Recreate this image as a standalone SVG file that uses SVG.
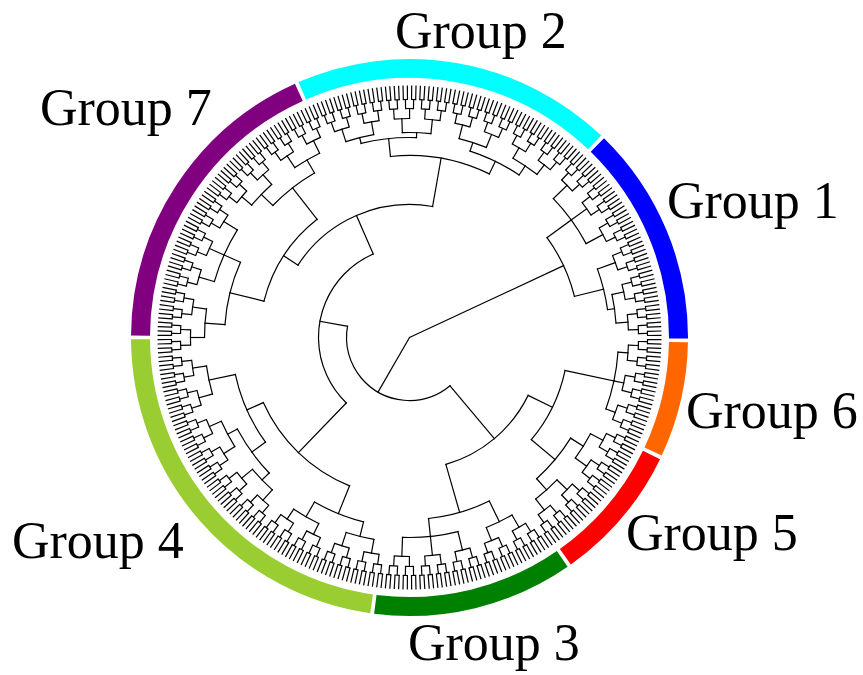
<svg xmlns="http://www.w3.org/2000/svg" width="863" height="675" viewBox="0 0 863 675">
<style>
.lbl{font-family:"Liberation Serif","Times New Roman",serif;font-size:52px;fill:#000}
.ring{fill:none;stroke-width:19}
.b{fill:none;stroke:#000}
.e{fill:none;stroke:#000;stroke-width:1.2;stroke-linecap:square}
</style>
<rect width="863" height="675" fill="#fff"/>
<g id="tree" transform="translate(409.5 337.5)">
<circle class="b" stroke-width="14" r="245" pathLength="360" stroke-dasharray="0.281 0.719" transform="rotate(0.36)"/>
<circle class="b" stroke-width="1.2" r="238" pathLength="360" stroke-dasharray="1.29 0.71" transform="rotate(0.356)"/>
<circle class="b" stroke-width="9" r="233.5" pathLength="360" stroke-dasharray="0.294 1.706" transform="rotate(0.853)"/>
<circle class="b" stroke-width="1.2" r="229" pathLength="360" stroke-dasharray="2.3 1.7" transform="rotate(0.85)"/>
<circle class="b" stroke-width="10" r="224" pathLength="360" stroke-dasharray="0.307 3.693" transform="rotate(1.847)"/>
<circle class="b" stroke-width="1.2" r="219" pathLength="360" stroke-dasharray="4.314 3.686" transform="rotate(1.843)"/>
<circle class="e" r="209" pathLength="360" stroke-dasharray="16 400" transform="rotate(4)"/>
<circle class="e" r="205" pathLength="360" stroke-dasharray="8 400" transform="rotate(28)"/>
<circle class="e" r="205" pathLength="360" stroke-dasharray="8 400" transform="rotate(44)"/>
<circle class="e" r="190" pathLength="360" stroke-dasharray="16 400" transform="rotate(32)"/>
<circle class="e" r="159" pathLength="360" stroke-dasharray="28 400" transform="rotate(12)"/>
<circle class="e" r="205" pathLength="360" stroke-dasharray="8 400" transform="rotate(60)"/>
<circle class="e" r="200" pathLength="360" stroke-dasharray="16 400" transform="rotate(76)"/>
<circle class="e" r="182" pathLength="360" stroke-dasharray="20 400" transform="rotate(64)"/>
<circle class="e" r="132" pathLength="360" stroke-dasharray="48 400" transform="rotate(26)"/>
<circle class="e" r="205" pathLength="360" stroke-dasharray="8 400" transform="rotate(100)"/>
<circle class="e" r="207" pathLength="360" stroke-dasharray="8 400" transform="rotate(116)"/>
<circle class="e" r="190" pathLength="360" stroke-dasharray="16 400" transform="rotate(104)"/>
<circle class="e" r="205" pathLength="360" stroke-dasharray="8 400" transform="rotate(132)"/>
<circle class="e" r="206" pathLength="360" stroke-dasharray="8 400" transform="rotate(148)"/>
<circle class="e" r="205" pathLength="360" stroke-dasharray="8 400" transform="rotate(164)"/>
<circle class="e" r="195" pathLength="360" stroke-dasharray="16 400" transform="rotate(136)"/>
<circle class="e" r="178" pathLength="360" stroke-dasharray="24 400" transform="rotate(144)"/>
<circle class="e" r="160" pathLength="360" stroke-dasharray="44 400" transform="rotate(112)"/>
<circle class="e" r="205" pathLength="360" stroke-dasharray="8 400" transform="rotate(180)"/>
<circle class="e" r="203" pathLength="360" stroke-dasharray="16 400" transform="rotate(196)"/>
<circle class="e" r="185" pathLength="360" stroke-dasharray="20 400" transform="rotate(184)"/>
<circle class="e" r="206" pathLength="360" stroke-dasharray="8 400" transform="rotate(220)"/>
<circle class="e" r="205" pathLength="360" stroke-dasharray="8 400" transform="rotate(236)"/>
<circle class="e" r="190" pathLength="360" stroke-dasharray="16 400" transform="rotate(224)"/>
<circle class="e" r="150" pathLength="360" stroke-dasharray="38 400" transform="rotate(194)"/>
<circle class="e" r="206" pathLength="360" stroke-dasharray="8 400" transform="rotate(252)"/>
<circle class="e" r="205" pathLength="360" stroke-dasharray="8 400" transform="rotate(268)"/>
<circle class="e" r="200" pathLength="360" stroke-dasharray="16 400" transform="rotate(256)"/>
<circle class="e" r="205" pathLength="360" stroke-dasharray="8 400" transform="rotate(284)"/>
<circle class="e" r="207" pathLength="360" stroke-dasharray="8 400" transform="rotate(300)"/>
<circle class="e" r="196" pathLength="360" stroke-dasharray="16 400" transform="rotate(288)"/>
<circle class="e" r="182" pathLength="360" stroke-dasharray="32 400" transform="rotate(264)"/>
<circle class="e" r="133" pathLength="360" stroke-dasharray="67 400" transform="rotate(213)"/>
<circle class="e" r="91" pathLength="360" stroke-dasharray="112.5 400" transform="rotate(134)"/>
<circle class="e" r="200" pathLength="360" stroke-dasharray="16 400" transform="rotate(316)"/>
<circle class="e" r="207" pathLength="360" stroke-dasharray="8 400" transform="rotate(348)"/>
<circle class="e" r="200" pathLength="360" stroke-dasharray="12 400" transform="rotate(340)"/>
<circle class="e" r="170" pathLength="360" stroke-dasharray="22 400" transform="rotate(324)"/>
<circle class="e" r="63" pathLength="360" stroke-dasharray="140.25 400" transform="rotate(50)"/>
<line class="e" x1="219" x2="209" transform="rotate(4)"/>
<line class="e" x1="219" x2="209" transform="rotate(12)"/>
<line class="e" x1="219" x2="209" transform="rotate(20)"/>
<line class="e" x1="219" x2="205" transform="rotate(28)"/>
<line class="e" x1="219" x2="205" transform="rotate(36)"/>
<line class="e" x1="219" x2="205" transform="rotate(44)"/>
<line class="e" x1="219" x2="205" transform="rotate(52)"/>
<line class="e" x1="219" x2="205" transform="rotate(60)"/>
<line class="e" x1="219" x2="205" transform="rotate(68)"/>
<line class="e" x1="219" x2="200" transform="rotate(76)"/>
<line class="e" x1="219" x2="200" transform="rotate(84)"/>
<line class="e" x1="219" x2="200" transform="rotate(92)"/>
<line class="e" x1="219" x2="205" transform="rotate(100)"/>
<line class="e" x1="219" x2="205" transform="rotate(108)"/>
<line class="e" x1="219" x2="207" transform="rotate(116)"/>
<line class="e" x1="219" x2="207" transform="rotate(124)"/>
<line class="e" x1="219" x2="205" transform="rotate(132)"/>
<line class="e" x1="219" x2="205" transform="rotate(140)"/>
<line class="e" x1="219" x2="206" transform="rotate(148)"/>
<line class="e" x1="219" x2="206" transform="rotate(156)"/>
<line class="e" x1="219" x2="205" transform="rotate(164)"/>
<line class="e" x1="219" x2="205" transform="rotate(172)"/>
<line class="e" x1="219" x2="205" transform="rotate(180)"/>
<line class="e" x1="219" x2="205" transform="rotate(188)"/>
<line class="e" x1="219" x2="203" transform="rotate(196)"/>
<line class="e" x1="219" x2="203" transform="rotate(204)"/>
<line class="e" x1="219" x2="203" transform="rotate(212)"/>
<line class="e" x1="219" x2="206" transform="rotate(220)"/>
<line class="e" x1="219" x2="206" transform="rotate(228)"/>
<line class="e" x1="219" x2="205" transform="rotate(236)"/>
<line class="e" x1="219" x2="205" transform="rotate(244)"/>
<line class="e" x1="219" x2="206" transform="rotate(252)"/>
<line class="e" x1="219" x2="206" transform="rotate(260)"/>
<line class="e" x1="219" x2="205" transform="rotate(268)"/>
<line class="e" x1="219" x2="205" transform="rotate(276)"/>
<line class="e" x1="219" x2="205" transform="rotate(284)"/>
<line class="e" x1="219" x2="205" transform="rotate(292)"/>
<line class="e" x1="219" x2="207" transform="rotate(300)"/>
<line class="e" x1="219" x2="207" transform="rotate(308)"/>
<line class="e" x1="219" x2="200" transform="rotate(316)"/>
<line class="e" x1="219" x2="200" transform="rotate(324)"/>
<line class="e" x1="219" x2="200" transform="rotate(332)"/>
<line class="e" x1="219" x2="200" transform="rotate(340)"/>
<line class="e" x1="219" x2="207" transform="rotate(348)"/>
<line class="e" x1="219" x2="207" transform="rotate(356)"/>
<line class="e" x1="209" x2="159" transform="rotate(12)"/>
<line class="e" x1="205" x2="190" transform="rotate(32)"/>
<line class="e" x1="205" x2="190" transform="rotate(48)"/>
<line class="e" x1="190" x2="159" transform="rotate(40)"/>
<line class="e" x1="159" x2="132" transform="rotate(26)"/>
<line class="e" x1="205" x2="182" transform="rotate(64)"/>
<line class="e" x1="200" x2="182" transform="rotate(84)"/>
<line class="e" x1="182" x2="132" transform="rotate(74)"/>
<line class="e" x1="132" x2="63" transform="rotate(50)"/>
<line class="e" x1="205" x2="190" transform="rotate(104)"/>
<line class="e" x1="207" x2="190" transform="rotate(120)"/>
<line class="e" x1="190" x2="160" transform="rotate(112)"/>
<line class="e" x1="205" x2="195" transform="rotate(136)"/>
<line class="e" x1="206" x2="195" transform="rotate(152)"/>
<line class="e" x1="195" x2="178" transform="rotate(144)"/>
<line class="e" x1="205" x2="178" transform="rotate(168)"/>
<line class="e" x1="178" x2="160" transform="rotate(156)"/>
<line class="e" x1="160" x2="91" transform="rotate(134)"/>
<line class="e" x1="205" x2="185" transform="rotate(184)"/>
<line class="e" x1="203" x2="185" transform="rotate(204)"/>
<line class="e" x1="185" x2="150" transform="rotate(194)"/>
<line class="e" x1="206" x2="190" transform="rotate(224)"/>
<line class="e" x1="205" x2="190" transform="rotate(240)"/>
<line class="e" x1="190" x2="150" transform="rotate(232)"/>
<line class="e" x1="150" x2="133" transform="rotate(213)"/>
<line class="e" x1="206" x2="200" transform="rotate(256)"/>
<line class="e" x1="205" x2="200" transform="rotate(272)"/>
<line class="e" x1="200" x2="182" transform="rotate(264)"/>
<line class="e" x1="205" x2="196" transform="rotate(288)"/>
<line class="e" x1="207" x2="196" transform="rotate(304)"/>
<line class="e" x1="196" x2="182" transform="rotate(296)"/>
<line class="e" x1="182" x2="133" transform="rotate(280)"/>
<line class="e" x1="133" x2="91" transform="rotate(246.5)"/>
<line class="e" x1="91" x2="63" transform="rotate(190.25)"/>
<line class="e" x1="200" x2="170" transform="rotate(324)"/>
<line class="e" x1="207" x2="200" transform="rotate(352)"/>
<line class="e" x1="200" x2="170" transform="rotate(346)"/>
<line class="e" x1="170" x2="0" transform="rotate(335)"/>
<line class="e" x1="63" x2="0" transform="rotate(120)"/>
</g>
<g id="group-6"><circle class="ring" transform="translate(409.5 337.5) rotate(1)" r="269" pathLength="360" stroke="#FF6600" stroke-dasharray="24.1 400"/><text class="lbl" x="686" y="428">Group 6</text></g>
<g id="group-5"><circle class="ring" transform="translate(409.5 337.5) rotate(25.9)" r="269" pathLength="360" stroke="#FF0000" stroke-dasharray="28.7 400"/><text class="lbl" x="626" y="550">Group 5</text></g>
<g id="group-3"><circle class="ring" transform="translate(409.5 337.5) rotate(55.4)" r="269" pathLength="360" stroke="#008000" stroke-dasharray="41.9 400"/><text class="lbl" x="408" y="660">Group 3</text></g>
<g id="group-4"><circle class="ring" transform="translate(409.5 337.5) rotate(98.1)" r="269" pathLength="360" stroke="#9ACD32" stroke-dasharray="81.5 400"/><text class="lbl" x="12" y="558">Group 4</text></g>
<g id="group-7"><circle class="ring" transform="translate(409.5 337.5) rotate(180.4)" r="269" pathLength="360" stroke="#800080" stroke-dasharray="65.3 400"/><text class="lbl" x="40" y="125">Group 7</text></g>
<g id="group-2"><circle class="ring" transform="translate(409.5 337.5) rotate(246.5)" r="269" pathLength="360" stroke="#00FFFF" stroke-dasharray="67 400"/><text class="lbl" x="395" y="48">Group 2</text></g>
<g id="group-1"><circle class="ring" transform="translate(409.5 337.5) rotate(314.3)" r="269" pathLength="360" stroke="#0000FF" stroke-dasharray="45.9 400"/><text class="lbl" x="667" y="218">Group 1</text></g>
</svg>
